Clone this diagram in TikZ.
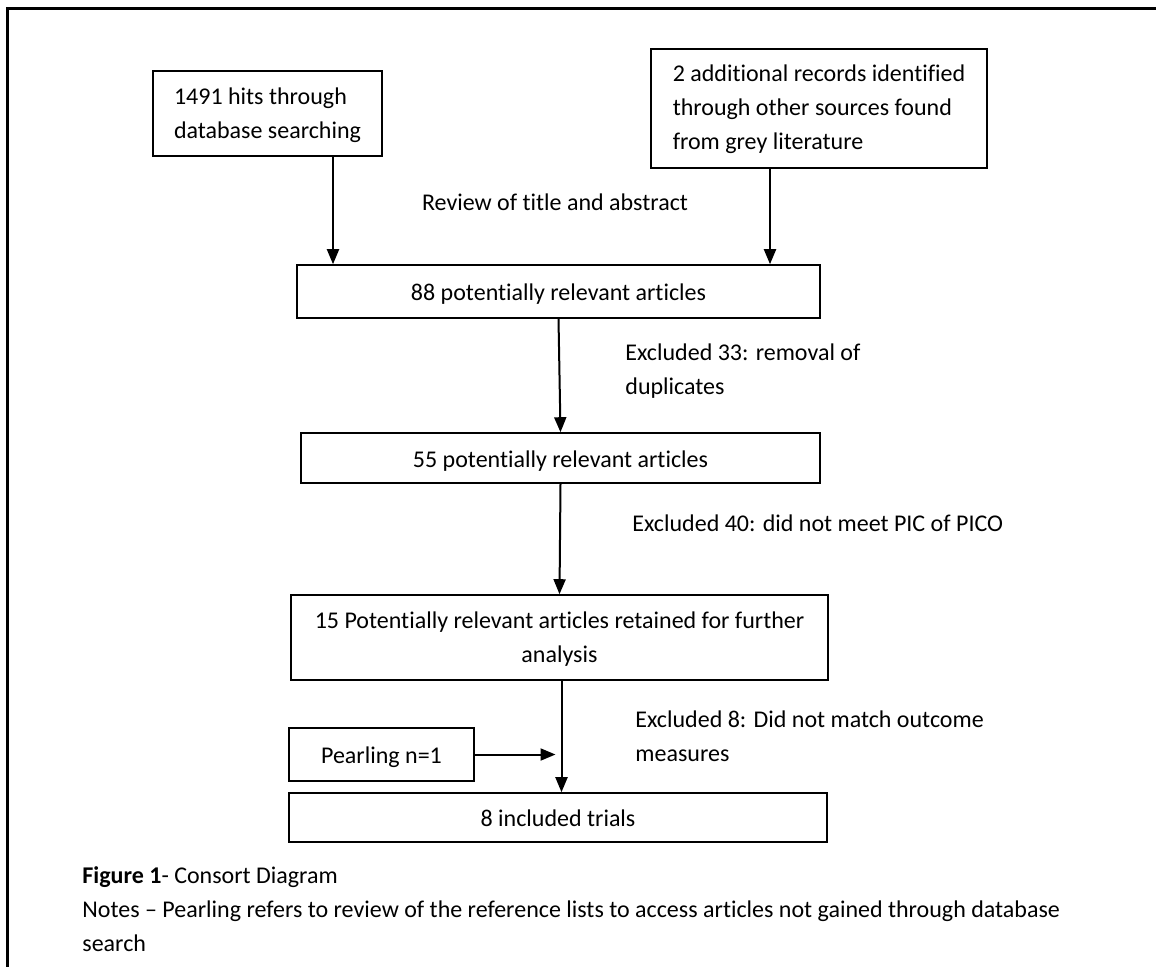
\documentclass[tikz,border=0pt]{standalone}
\usepackage{fontspec}
\setmainfont{Carlito}[Ligatures=CommonOff]
\usetikzlibrary{arrows.meta,positioning}

\tikzset{
  stagebox/.style={draw, line width=0.8pt, align=left, inner sep=0pt,
    text height=#1, text depth=2pt},
  stagebox/.default=11pt,
  note/.style={align=left, inner sep=0pt, anchor=west},
  arr/.style={line width=1pt, -{Triangle[length=7.5pt,width=6pt]}}
}

\begin{document}
\begin{tikzpicture}[x=0.5pt,y=-0.5pt]
    \useasboundingbox (0,0) rectangle (1156,966);
    \fontsize{12}{17}\selectfont

    % frame
    \draw[line width=1.5pt] (7,970) -- (7,8) -- (1160,8);

    \node[stagebox=26.5pt, minimum width=114.5pt, minimum height=42.5pt] (hits) at (267.5,113.5)
      {1491 hits through\\database searching};
    \node[stagebox=43pt, minimum width=168pt, minimum height=59.5pt] (grey) at (819,108.5)
      {2 additional records identified\\through other sources found\\from grey literature};
    \node[inner sep=0pt] (review) at (555,202) {Review of title and abstract};

    \node[stagebox, align=center, minimum width=261.5pt, minimum height=26.5pt] (c88) at (558.5,291.5)
      {88 potentially relevant articles};
    \node[stagebox, align=center, minimum width=259.5pt, minimum height=25pt] (c55) at (560.5,458)
      {55 potentially relevant articles};
    \node[stagebox=27pt, align=center, minimum width=268.5pt, minimum height=42.5pt] (c15) at (559.5,637.5)
      {15 Potentially relevant articles retained for further\\analysis};
    \node[stagebox, minimum width=92.5pt, minimum height=26.5pt] (pearl) at (381.5,754.5)
      {Pearling n=1};
    \node[stagebox, align=center, minimum width=269pt, minimum height=24.5pt] (c8) at (558,817.5)
      {8 included trials};

    \node[note] (ex33) at (625,371) {Excluded 33: removal of\\duplicates};
    \node[note] (ex40) at (632,523) {Excluded 40: did not meet PIC of PICO};
    \node[note] (ex8) at (635,736) {Excluded 8: Did not match outcome\\measures};

    \draw[arr] ([xshift=32.75pt]hits.south) -- ([xshift=32.75pt]hits.south |- c88.north);
    \draw[arr] ([xshift=-24.5pt]grey.south) -- ([xshift=-24.5pt]grey.south |- c88.north);
    \draw[arr] (c88.south) -- (c55.north);
    \draw[arr] (c55.south) -- (c15.north);
    \draw[arr] ([xshift=1pt]c15.south) -- ([xshift=1pt]c15.south |- c8.north);
    \draw[arr] (pearl.east) -- ([xshift=-2pt]pearl.east -| c15.south);

    \node[note, anchor=north west] (caption) at (82,866)
      {\textbf{Figure 1}- Consort Diagram\\
       Notes -- Pearling refers to review of the reference lists to access articles not gained through database\\
       search};
\end{tikzpicture}
\end{document}
